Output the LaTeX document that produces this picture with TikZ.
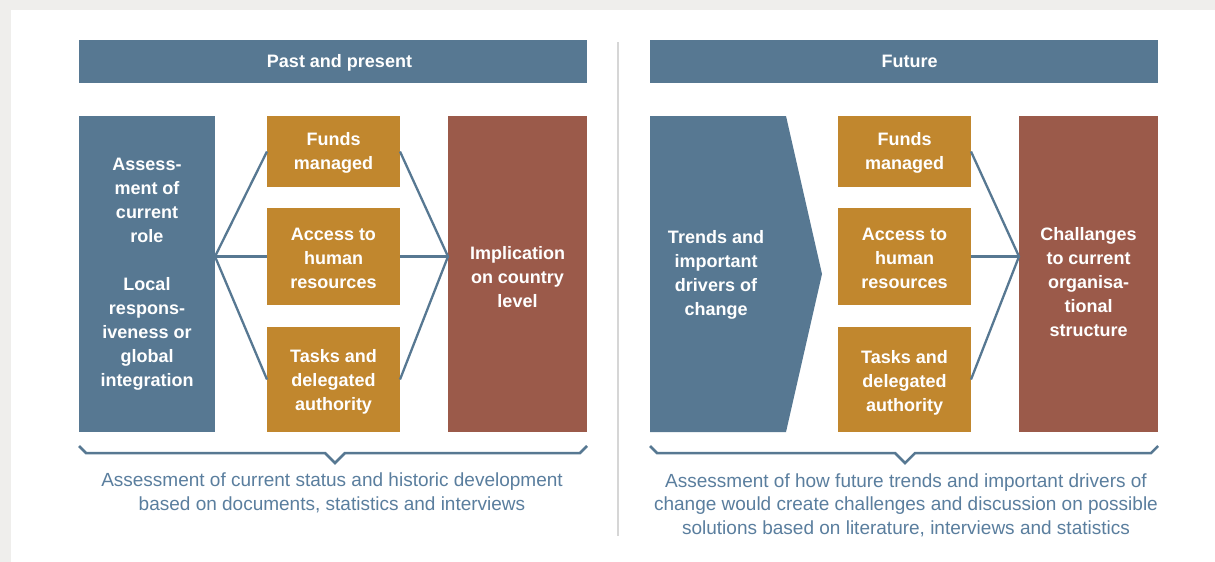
\documentclass[tikz,border=0pt]{standalone}
\usepackage{fontspec}
\setmainfont{Liberation Sans}
\definecolor{cblue}{HTML}{577892}
\definecolor{corange}{HTML}{C1872E}
\definecolor{cred}{HTML}{9B5A4A}
\definecolor{ctext}{HTML}{5A7E9E}
\definecolor{cgray}{HTML}{EFEEEC}
\definecolor{cdiv}{HTML}{D6D6D6}
\begin{document}
\begin{tikzpicture}[x=1pt,y=-1pt,
  box/.style={anchor=north west,inner sep=0pt,outer sep=0pt,align=center,text=white,
    font=\fontsize{18}{24}\selectfont\bfseries},
  head/.style={box,fill=cblue,minimum width=508pt,minimum height=43pt},
  headtext/.style={box,anchor=center,text depth=0pt,font=\fontsize{18}{24}\selectfont\bfseries},
  bluebox/.style={box,fill=cblue},
  orangebox/.style={box,fill=corange,minimum width=133pt},
  redbox/.style={box,fill=cred,minimum width=139pt,minimum height=316pt},
  boxtext/.style={box,anchor=center},
  link/.style={draw=cblue,line width=2.3pt},
  brace/.style={draw=cblue,line width=2.5pt,line join=miter},
  caption/.style={align=center,text=ctext,font=\fontsize{19}{23.5}\selectfont},
]
\useasboundingbox (0,0) rectangle (1215,562);
\fill[cgray] (0,0) rectangle (1215,562);
\fill[white] (11,10) rectangle (1215,562);
\draw[cdiv,line width=2pt] (618,42) -- (618,536);
% headers
\node[head] (h1) at (79,40) {};
\node[headtext] (h1t) at (339.5,61) {Past and present};
\node[head] (h2) at (650,40) {};
\node[headtext] (h2t) at (909.5,61) {Future};
% left panel
\node[bluebox,minimum width=136pt,minimum height=316pt] (lb) at (79,116)
  {Assess-\\ment of\\current\\role\\[24pt]Local\\respons-\\iveness or\\global\\integration};
\node[orangebox,minimum height=71pt] (f1) at (267,116) {};
\node[boxtext] (f1t) at (333.5,153) {Funds\\managed};
\node[orangebox,minimum height=97pt] (a1) at (267,208) {};
\node[boxtext] (a1t) at (333.5,258) {Access to\\human\\resources};
\node[orangebox,minimum height=105pt] (t1) at (267,327) {};
\node[boxtext] (t1t) at (333.5,382) {Tasks and\\delegated\\authority};
\node[redbox] (r1) at (448,116) {};
\node[boxtext] (r1t) at (517.5,277) {Implication\\on country\\level};
\coordinate (lj) at (lb.east |- a1.west);
\coordinate (rj) at (r1.west |- a1.west);
\draw[link] (f1.west) -- (lj) -- (t1.west);
\draw[link] (lj) -- (a1.west);
\draw[link] (f1.east) -- (rj) -- (t1.east);
\draw[link] (a1.east) -- (rj);
% right panel
\fill[cblue] (650,116) -- (786,116) -- (822,274) -- (786,432) -- (650,432) -- cycle;
\node[boxtext] (ch) at (716,275) {Trends and\\important\\drivers of\\change};
\node[orangebox,minimum height=71pt] (f2) at (838,116) {};
\node[boxtext] (f2t) at (904.5,153) {Funds\\managed};
\node[orangebox,minimum height=97pt] (a2) at (838,208) {};
\node[boxtext] (a2t) at (904.5,258) {Access to\\human\\resources};
\node[orangebox,minimum height=105pt] (t2) at (838,327) {};
\node[boxtext] (t2t) at (904.5,383) {Tasks and\\delegated\\authority};
\node[redbox] (r2) at (1019,116) {};
\node[boxtext] (r2t) at (1088.5,282) {Challanges\\to current\\organisa-\\tional\\structure};
\coordinate (rj2) at (r2.west |- a2.west);
\draw[link] (f2.east) -- (rj2) -- (t2.east);
\draw[link] (a2.east) -- (rj2);
% braces
\draw[brace] (79,446) -- (86,453) -- (325,453) -- (335,463) -- (345,453) -- (580,453) -- (587,446);
\draw[brace] (650,446) -- (657,453) -- (895,453) -- (905,463) -- (915,453) -- (1151,453) -- (1158,446);
% captions
\node[caption] (c1) at (332,493) {Assessment of current status and historic development\\based on documents, statistics and interviews};
\node[caption] (c2) at (906,505) {Assessment of how future trends and important drivers of\\change would create challenges and discussion on possible\\solutions based on literature, interviews and statistics};
\end{tikzpicture}
\end{document}
